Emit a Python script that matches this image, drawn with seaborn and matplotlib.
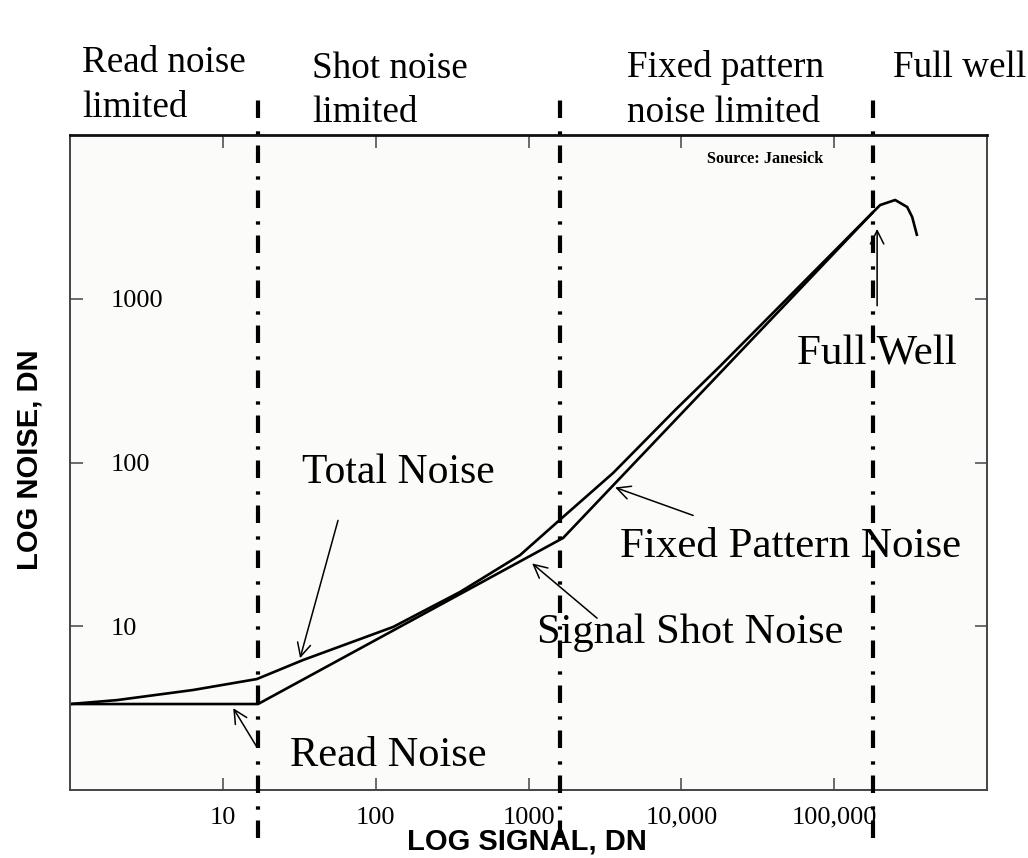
"""Photon transfer curve (log noise vs log signal) with the four noise regimes."""

import matplotlib

matplotlib.use("Agg")
import matplotlib.pyplot as plt
import pandas as pd
import seaborn as sns
from matplotlib.ticker import NullLocator

# ---------------------------------------------------------------- data (DN)

# lower curve: read noise floor -> shot noise (slope 1/2) -> FPN (slope 1)
SIGNAL_LOWER = [1, 17.0, 1684, 180000]
NOISE_LOWER = [3.35, 3.35, 34.6, 3386]

# total noise, including the full-well roll-off
SIGNAL_TOTAL = [1, 2.03, 6.38, 16.7, 33.5, 130, 357, 881, 1684, 3578, 9108,
                17950, 180000, 200000, 250600, 300400, 323900, 349300]
NOISE_TOTAL = [3.35, 3.54, 4.08, 4.76, 6.22, 9.9, 16.2, 27.2, 46.5, 86.3, 209,
               388, 3386, 3736, 4009, 3634, 3157, 2417]

# regime boundaries (signal, DN)
REGION_BOUNDS = [17, 1610, 180000]

X_TICKS = [10, 100, 1000, 10000, 100000]
X_TICK_LABELS = ["10", "100", "1000", "10,000", "100,000"]
Y_TICKS = [10, 100, 1000]
Y_TICK_LABELS = ["10", "100", "1000"]

# curve labels: text, (x, y) in axes fraction, font size
CURVE_LABELS = [
    ("Total Noise", (0.253, 0.469), 30),
    ("Fixed Pattern Noise", (0.600, 0.356), 31),
    ("Signal Shot Noise", (0.509, 0.224), 30.5),
    ("Read Noise", (0.240, 0.037), 30.5),
    ("Full Well", (0.793, 0.649), 31),
]

# arrows: (tail, head) in data coordinates
ARROWS = [
    ((56.7, 44.3), (32, 6.38)),
    ((16.7, 1.83), (11.7, 3.16)),
    ((2810, 11.2), (1056, 24.2)),
    ((11950, 47.5), (3690, 70.4)),
    ((191000, 906), (191000, 2670)),
]

# regime headings above the plot: lines, left x px, baselines px
REGION_HEADINGS = [
    (["Read noise", "limited"], 82, [72, 117]),
    (["Shot noise", "limited"], 312, [78, 122]),
    (["Fixed pattern", "noise limited"], 627, [77, 122]),
    (["Full well"], 893, [77]),
]

# ---------------------------------------------------------------- figure

W, H = 1028, 858
sns.set_theme(style="ticks")
plt.rcParams["font.family"] = ["Liberation Serif", "DejaVu Serif"]
plt.rcParams["lines.solid_capstyle"] = "butt"
plt.rcParams["text.color"] = "black"
plt.rcParams["xtick.labelcolor"] = "black"
plt.rcParams["ytick.labelcolor"] = "black"

fig = plt.figure(figsize=(W / 100, H / 100), dpi=100)
fig.patch.set_facecolor("white")
ax = fig.add_axes([70 / W, 1 - 790 / H, 917 / W, 655 / H])
ax.set_facecolor("#fbfbf9")
ax.set_xscale("log")
ax.set_yscale("log")

lower = pd.DataFrame({"signal": SIGNAL_LOWER, "noise": NOISE_LOWER})
total = pd.DataFrame({"signal": SIGNAL_TOTAL, "noise": NOISE_TOTAL})
sns.lineplot(data=lower, x="signal", y="noise", ax=ax, color="black",
             lw=1.9, sort=False, estimator=None)
sns.lineplot(data=total, x="signal", y="noise", ax=ax, color="black",
             lw=1.9, sort=False, estimator=None)

for xb in REGION_BOUNDS:
    ax.axvline(xb, ymin=-0.073, ymax=1.053, clip_on=False, color="black",
               lw=3.0, ls=(0, (4.2, 2.6, 0.8, 3.2)), zorder=5)

ax.set_xlim(1, 1e6)
ax.set_ylim(1, 1e4)
ax.set_xticks(X_TICKS, labels=X_TICK_LABELS)
ax.set_yticks(Y_TICKS, labels=Y_TICK_LABELS)
ax.xaxis.set_minor_locator(NullLocator())
ax.yaxis.set_minor_locator(NullLocator())
ax.tick_params(which="major", direction="in", top=True, right=True,
               length=9, width=1.1, color="#444444", labelsize=19,
               labelcolor="black")
ax.tick_params(axis="x", pad=12)
ax.tick_params(axis="y", pad=-29)
for lbl in ax.get_yticklabels():
    lbl.set_horizontalalignment("left")
ax.set_xlabel("")
ax.set_ylabel("")
for side in ("left", "right", "bottom"):
    ax.spines[side].set_color("#444444")
    ax.spines[side].set_linewidth(1.4)
ax.spines["top"].set_color("#111111")
ax.spines["top"].set_linewidth(2.0)

for text, (tx, ty), size in CURVE_LABELS:
    ax.text(tx, ty, text, transform=ax.transAxes, fontsize=size,
            ha="left", va="baseline", color="black")

for tail, head in ARROWS:
    ax.annotate("", xy=head, xytext=tail,
                arrowprops=dict(arrowstyle="->", color="black", lw=1.1,
                                mutation_scale=24, shrinkA=0, shrinkB=0))

ax.text(0.695, 0.957, "Source: Janesick", transform=ax.transAxes,
        fontsize=11.7, fontweight="bold", ha="left", va="baseline",
        color="black")

for lines, left, baselines in REGION_HEADINGS:
    for line, base in zip(lines, baselines):
        fig.text(left / W, 1 - base / H, line, fontsize=26.7,
                 ha="left", va="baseline", color="black")

fig.text(30 / W, 1 - 460 / H, "LOG NOISE, DN", rotation=90, fontsize=21,
         fontweight="bold", family=["Liberation Sans", "DejaVu Sans"],
         ha="center", va="center", color="black")
fig.text(527 / W, 1 - 842 / H, "LOG SIGNAL, DN", fontsize=21,
         fontweight="bold", family=["Liberation Sans", "DejaVu Sans"],
         ha="center", va="center", color="black")

fig.savefig("out.png", dpi=100)
